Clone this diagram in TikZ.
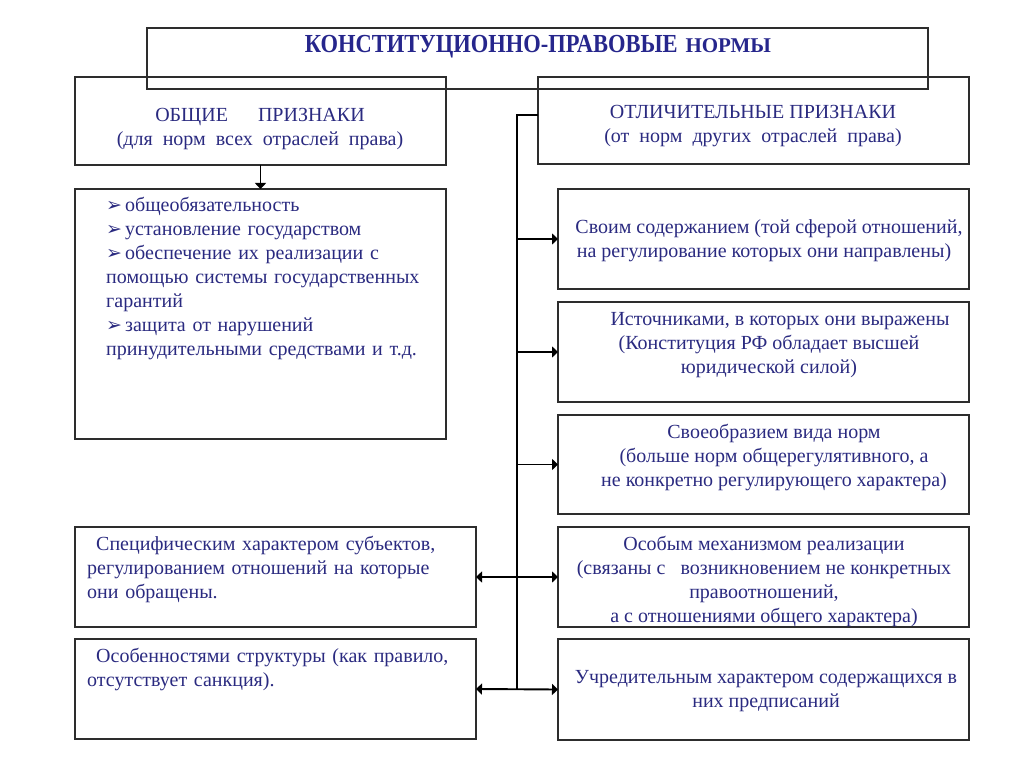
\documentclass[tikz,border=0pt]{standalone}
\usepackage{fontspec}
\setmainfont{Liberation Serif}
\newfontfamily\dejavu{DejaVu Sans}
\usetikzlibrary{arrows.meta}
\definecolor{txt}{RGB}{42,42,128}
\definecolor{ttl}{RGB}{38,38,140}
\definecolor{frame}{RGB}{45,45,45}
\newcommand{\bul}{{\dejavu\fontsize{19}{24}\selectfont ➢}\hspace{3pt}}
\begin{document}
\begin{tikzpicture}[x=1pt,y=-1pt,
  box/.style={draw=frame,line width=1.3pt,inner sep=0pt,outer sep=0pt,anchor=north west},
  lbl/.style={text=txt,font=\fontsize{20}{24}\selectfont,inner sep=0pt,align=center,anchor=base},
  lbll/.style={text=txt,font=\fontsize{20}{24}\selectfont,inner sep=0pt,align=left,anchor=north west},
  conn/.style={line width=1.9pt,black},
  tip/.style={-{Triangle[length=6pt,width=11pt]}},
  tips/.style={{Triangle[length=6pt,width=11pt]}-{Triangle[length=6pt,width=11pt]}}]
\useasboundingbox (0,0) rectangle (1024,767);
% boxes
\node[box,minimum width=781pt,minimum height=61pt] (top) at (147,28) {};
\node[box,minimum width=371pt,minimum height=88pt] (gen) at (75,77) {};
\node[box,minimum width=431pt,minimum height=87pt] (dist) at (538,77) {};
\node[box,minimum width=371pt,minimum height=250pt] (list) at (75,189) {};
\node[box,minimum width=411pt,minimum height=100pt] (r1) at (558,189) {};
\node[box,minimum width=411pt,minimum height=100pt] (r2) at (558,302) {};
\node[box,minimum width=411pt,minimum height=99pt] (r3) at (558,415) {};
\node[box,minimum width=411pt,minimum height=100pt] (r4) at (558,527) {};
\node[box,minimum width=411pt,minimum height=101pt] (r5) at (558,639) {};
\node[box,minimum width=401pt,minimum height=100pt] (l1) at (75,527) {};
\node[box,minimum width=401pt,minimum height=100pt] (l2) at (75,639) {};
% texts
\node[text=ttl,inner sep=0pt,anchor=base] (ttl) at (538,53)
  {\bfseries\fontsize{26}{26}\selectfont\scalebox{0.865}[1]{КОНСТИТУЦИОННО-ПРАВОВЫЕ}\hspace{8pt}{\fontsize{21}{24}\selectfont НОРМЫ}};
\node[lbl] (gent) at (260,122) {ОБЩИЕ\hspace{1.5em}ПРИЗНАКИ};
\node[lbl] (gens) at (260,146) {(для\ \ норм\ \ всех\ \ отраслей\ \ права)};
\node[lbl] (distt) at (753,119) {ОТЛИЧИТЕЛЬНЫЕ ПРИЗНАКИ};
\node[lbl] (dists) at (753,143) {(от\ \ норм\ \ других\ \ отраслей\ \ права)};
\node[lbll,text width=340pt] (listt) at (106,197) {\bul общеобязательность\\
\bul установление государством\\
\bul обеспечение их реализации с\\
помощью системы государственных\\
гарантий\\
\bul защита от нарушений\\
принудительными средствами и т.д.};
\node[lbl] (r1t) at (764,257) {\hspace{10pt}Своим содержанием (той сферой отношений,\\на регулирование которых они направлены)\hspace{10pt}};
\node[lbl] (r2t) at (769,373) {\hspace{22pt}Источниками, в которых они выражены\\(Конституция РФ обладает высшей\\юридической силой)};
\node[lbl] (r3t) at (774,486) {Своеобразием вида норм\\(больше норм общерегулятивного, а\\не конкретно регулирующего характера)};
\node[lbl] (r4t) at (764,622) {Особым механизмом реализации\\(связаны с\ \ \ возникновением не конкретных\\правоотношений,\\а с отношениями общего характера)};
\node[lbl] (r5t) at (766,707) {Учредительным характером содержащихся в\\них предписаний};
\node[lbll,text width=390pt] (l1t) at (87,536) {\hspace{9pt}Специфическим характером субъектов,\\регулированием отношений на которые\\они обращены.};
\node[lbll,text width=390pt] (l2t) at (87,648) {\hspace{9pt}Особенностями структуры (как правило,\\отсутствует санкция).};
% connectors
\coordinate (t0) at (538,115);
\coordinate (t1) at (517,115);
\coordinate (tb) at (517,689);
\draw[conn] (t0) -- (t1) -- (tb);
\draw[conn,tip] (gen.south) -- (list.north);
\draw[conn,tip] (r1.west -| tb) -- (r1.west);
\draw[conn,tip] (r2.west -| tb) -- (r2.west);
\draw[conn,tip] (r3.west -| tb) -- (r3.west);
\draw[conn,tips] (l1.east) -- (r4.west);
\draw[conn,tips] (l2.east) -- (r5.west);
\end{tikzpicture}
\end{document}
